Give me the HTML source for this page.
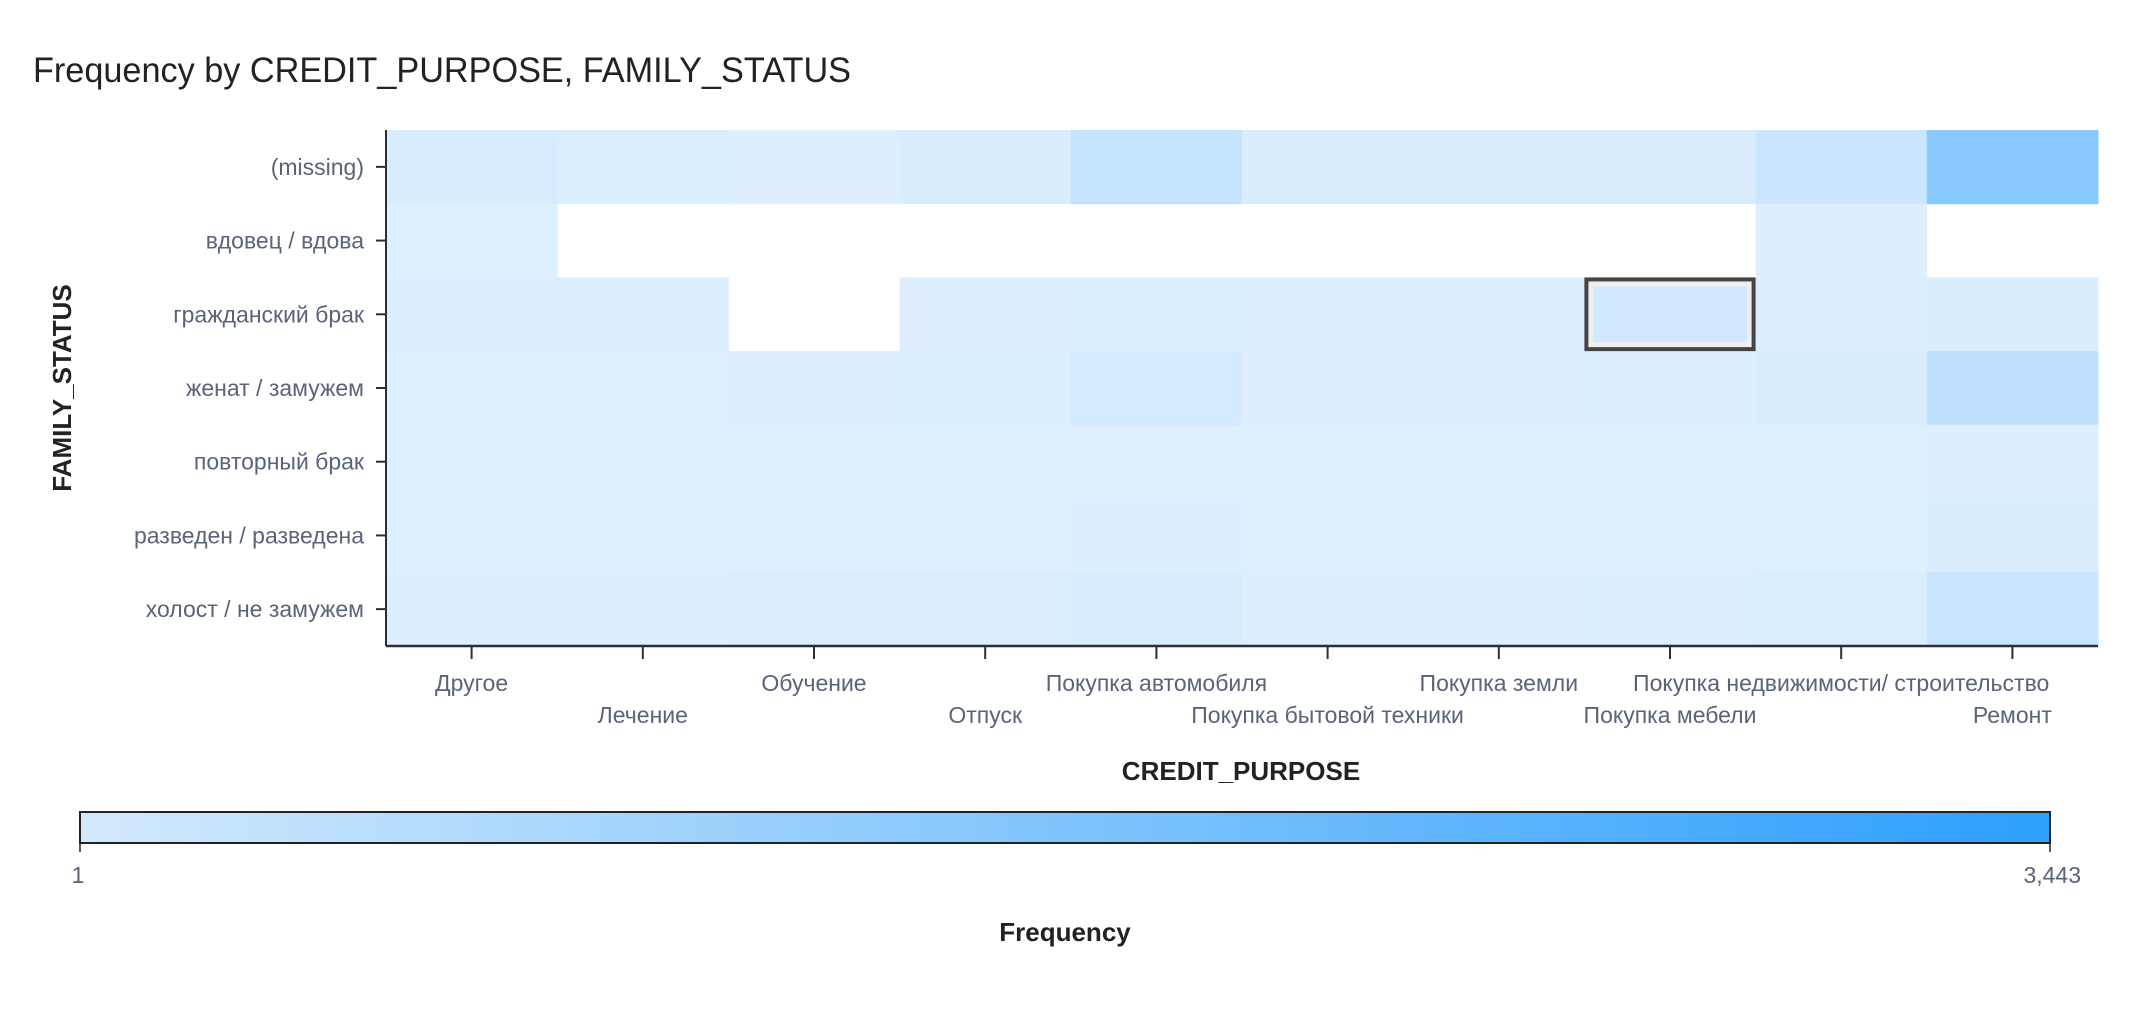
<!DOCTYPE html>
<html><head><meta charset="utf-8"><style>
html,body{margin:0;padding:0;background:#fff;}
svg{display:block;font-family:"Liberation Sans","Noto Sans CJK SC",sans-serif;}
</style></head><body>
<svg id="chart" width="2152" height="1020" viewBox="0 0 2152 1020" xmlns="http://www.w3.org/2000/svg">
<defs><linearGradient id="cg" x1="0" x2="1" y1="0" y2="0"><stop offset="0" stop-color="#d2e9fc"/><stop offset="1" stop-color="#2d9ffd"/></linearGradient></defs>
<text x="33" y="82" font-size="35" fill="#222" textLength="818" lengthAdjust="spacingAndGlyphs">Frequency by CREDIT_PURPOSE, FAMILY_STATUS</text>
<g id="cells"></g>
<g id="axes"></g>
<text transform="translate(71,388) rotate(-90)" text-anchor="middle" font-size="26" font-weight="bold" fill="#222">FAMILY_STATUS</text>
<text x="1241" y="780" text-anchor="middle" font-size="26" font-weight="bold" fill="#222">CREDIT_PURPOSE</text>
<rect x="80" y="812" width="1970" height="31" fill="url(#cg)" stroke="#222" stroke-width="2"/>
<line x1="80" y1="843" x2="80" y2="852" stroke="#222" stroke-width="1.5"/>
<line x1="2050" y1="843" x2="2050" y2="852" stroke="#222" stroke-width="1.5"/>
<text id="cbmin" x="78" y="883" text-anchor="middle" font-size="23" fill="#5a6478"></text>
<text id="cbmax" x="2081" y="883" text-anchor="end" font-size="23" fill="#5a6478"></text>
<text x="1065" y="941" text-anchor="middle" font-size="26" font-weight="bold" fill="#222">Frequency</text>
</svg>
<script>
const categories = ["Другое","Лечение","Обучение","Отпуск","Покупка автомобиля","Покупка бытовой техники","Покупка земли","Покупка мебели","Покупка недвижимости/ строительство","Ремонт"];
const statuses = ["(missing)","вдовец / вдова","гражданский брак","женат / замужем","повторный брак","разведен / разведена","холост / не замужем"];
const rowMissing = [170,100,60,130,560,110,130,150,420,1720];
const rowWidow = [40,null,null,null,null,null,null,null,60,null];
const rowCivil = [50,50,null,80,90,70,60,300,70,140];
const rowMarried = [40,40,80,90,250,60,50,50,150,620];
const rowRemarried = [30,30,30,30,40,30,30,30,30,50];
const rowDivorced = [30,30,30,30,60,30,30,30,40,120];
const rowSingle = [50,50,80,70,180,50,50,60,100,440];
const colorMin = 1;
const colorMax = 3443;
const highlightRow = 2;
const highlightCol = 7;

const NS="http://www.w3.org/2000/svg";
const rows=[rowMissing,rowWidow,rowCivil,rowMarried,rowRemarried,rowDivorced,rowSingle];
const L=386,R=2098,T=130,B=646;
const cw=(R-L)/categories.length, rh=(B-T)/statuses.length;
function xScale(i){return L+i*cw;}
function yScale(j){return T+j*rh;}
function color(v){
  const t=Math.max(0,Math.min(1,(v-colorMin)/(colorMax-colorMin)));
  const a=[224,240,254],b=[45,159,253];
  return "rgb("+a.map((c,k)=>Math.round(c+(b[k]-c)*t)).join(",")+")";
}
function mk(tag,attrs,parent){const e=document.createElementNS(NS,tag);for(const k in attrs)e.setAttribute(k,attrs[k]);parent.appendChild(e);return e;}
const cells=document.getElementById("cells");
rows.forEach((row,j)=>{row.forEach((v,i)=>{
  if(v===null)return;
  const r=mk("rect",{x:xScale(i),y:yScale(j),width:cw+0.5,height:rh+0.5,fill:color(v)},cells);
  
  
});});
const hx=xScale(highlightCol),hy=yScale(highlightRow);
const h1=mk("rect",{x:hx+6,y:hy+6,width:cw-12,height:rh-12,fill:"none",stroke:"#eeeeee","stroke-width":6},cells);


const h2=mk("rect",{x:hx+2,y:hy+2,width:cw-4,height:rh-4,fill:"none",stroke:"#444","stroke-width":4},cells);


const ax=document.getElementById("axes");
const yl=mk("line",{x1:L,y1:T,x2:L,y2:B,stroke:"#2a2f3a","stroke-width":2},ax);


const xl=mk("line",{x1:L,y1:B,x2:R,y2:B,stroke:"#2a2f3a","stroke-width":2.5},ax);


statuses.forEach((s,j)=>{
  const yc=yScale(j)+rh/2;
  const tk=mk("line",{x1:L-10,y1:yc,x2:L,y2:yc,stroke:"#2a2f3a","stroke-width":2},ax);
  
  
  const t=mk("text",{x:364,y:yc+8,"text-anchor":"end","font-size":23,fill:"#5a6478"},ax);
  t.textContent=s;
  
  
});
categories.forEach((c,i)=>{
  const xc=xScale(i)+cw/2;
  const tk=mk("line",{x1:xc,y1:B,x2:xc,y2:B+13,stroke:"#2a2f3a","stroke-width":2},ax);
  
  
  const t=mk("text",{x:xc,y:(i%2===0?691:723),"text-anchor":"middle","font-size":23,fill:"#5a6478"},ax);
  t.textContent=c;
  
  
});
document.getElementById("cbmin").textContent=colorMin.toLocaleString("en-US");
document.getElementById("cbmax").textContent=colorMax.toLocaleString("en-US");
</script>
</body></html>
